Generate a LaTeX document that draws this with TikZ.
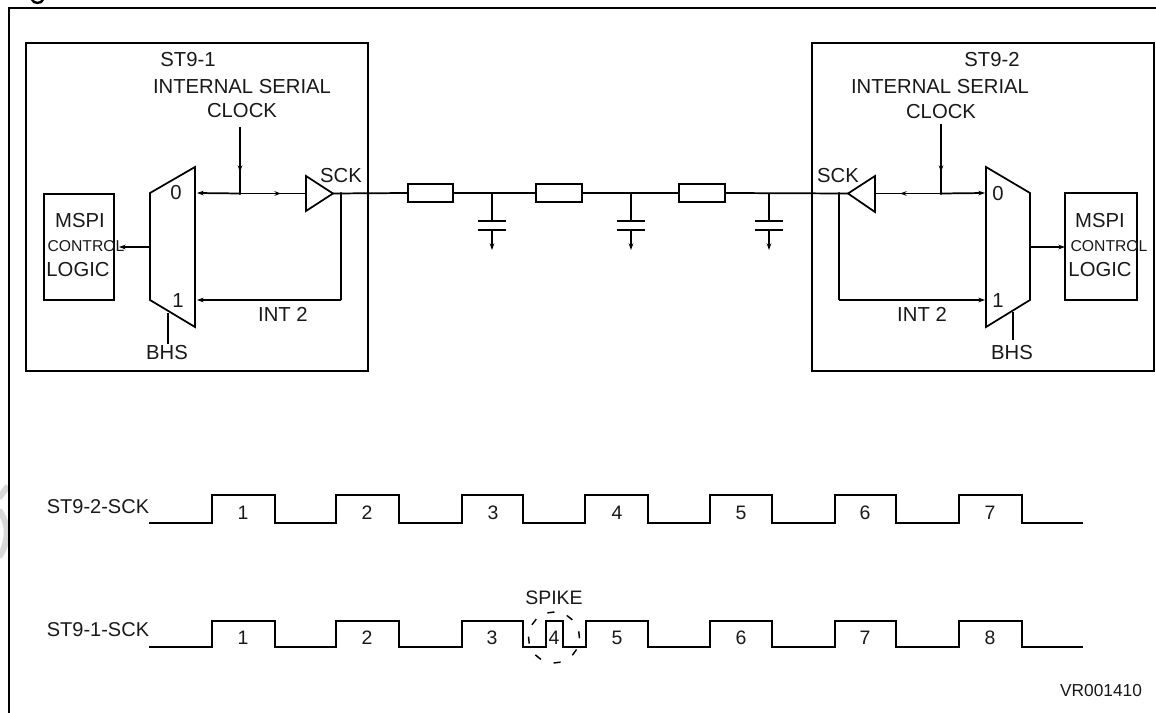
\documentclass[tikz,border=0pt]{standalone}
\usepackage{fontspec}
\setmainfont{Liberation Sans}
\usetikzlibrary{arrows.meta}
\tikzset{
  line/.style={line width=1.3pt, line join=miter},
  tip/.style={-{Stealth[length=5pt,width=3.5pt]}},
  lab/.style={inner sep=0pt, font=\fontsize{15.2pt}{18pt}\selectfont, text=black!90},
  smalllab/.style={inner sep=0pt, font=\fontsize{11.8pt}{14pt}\selectfont, text=black!90},
  wlab/.style={inner sep=0pt, font=\fontsize{15pt}{18pt}\selectfont, text=black!90},
  numlab/.style={inner sep=0pt, font=\fontsize{14.6pt}{18pt}\selectfont, text=black!90}
}
\begin{document}
\begin{tikzpicture}[x=0.75pt,y=-0.75pt]
\useasboundingbox (0,0) rectangle (1156,713);
\clip (0,0) rectangle (1156,713);
\fill[white] (0,0) rectangle (1156,713);
% watermark fragment and clipped title descender
\draw[black!15,line width=4.5pt] (8,486) -- (-1,498);
\draw[black!15,line width=4.5pt] (-1,510) .. controls (6,520) and (8,530) .. (6,540) .. controls (5,547) and (2,553) .. (-1,557);
\draw[line width=1.8pt] (32,-0.5) .. controls (33,4) and (42,4) .. (43,-0.5);
% frame
\draw[line] (1156,8) -- (9,8) -- (9,713);
% boxes
\node[draw,line,minimum width=256.5pt,minimum height=246pt,inner sep=0pt] (st1) at (197,207) {};
\node[draw,line,minimum width=256.5pt,minimum height=246pt,inner sep=0pt] (st2) at (983,207) {};
\node[draw,line,minimum width=52.5pt,minimum height=79.5pt,inner sep=0pt] (ml1) at (79,247) {};
\node[draw,line,minimum width=54pt,minimum height=80.25pt,inner sep=0pt] (ml2) at (1101,246.5) {};
% muxes
\draw[line] (150,193) -- (195,167) -- (195,327) -- (150,300) -- cycle;
\draw[line] (986,167) -- (1030,193) -- (1030,300) -- (986,327) -- cycle;
\coordinate (m1in0) at (197,193);
\coordinate (m1in1) at (197,300);
\coordinate (m1ctl) at (150,247);
\coordinate (m2in0) at (985,193);
\coordinate (m2in1) at (985,300);
\coordinate (m2ctl) at (1030,247);
% buffers
\draw[line] (306,176) -- (333,193.5) coordinate (b1o) -- (306,211) -- cycle;
\coordinate (b1i) at (306,193.5);
\draw[line] (875,176) -- (848,193.5) coordinate (b2o) -- (875,212) -- cycle;
\coordinate (b2i) at (875,193.5);
% resistors
\node[draw,line,minimum width=33.75pt,minimum height=13.5pt,inner sep=0pt] (r1) at (430.5,193) {};
\node[draw,line,minimum width=34.5pt,minimum height=13.5pt,inner sep=0pt] (r2) at (559,193) {};
\node[draw,line,minimum width=34.5pt,minimum height=13.5pt,inner sep=0pt] (r3) at (702,193) {};
% bus
\draw[line] (b1o) -- (r1.west);
\draw[line] (r1.east) -- (r2.west);
\draw[line] (r2.east) -- (r3.west);
\draw[line] (r3.east) -- (b2o);
% capacitors
\foreach \n/\x in {a/492,b/631,c/769}{
  \coordinate (c\n t) at (\x,193);
  \coordinate (c\n p) at (\x,221);
  \coordinate (c\n q) at (\x,230);
  \coordinate (c\n g) at (\x,250);
  \draw[line] (c\n t) -- (c\n p);
  \draw[line] ([xshift=-10.5pt]c\n p) -- ([xshift=10.5pt]c\n p);
  \draw[line] ([xshift=-10.5pt]c\n q) -- ([xshift=10.5pt]c\n q);
  \draw[line,tip] (c\n q) -- (c\n g);
}
% left internal
\coordinate (ck1) at (240,127); \coordinate (j1) at (240,193.5); \coordinate (s1) at (341,193.5);
\coordinate (s1b) at (341,300);
\draw[line,tip] (ck1) -- (240,172);
\draw[line] (ck1) -- (j1);
\draw[line] (j1) -- (b1i);
\draw[line,tip] (j1) -- (m1in0);
\draw[line,tip] (j1) -- (281,193.5);
\draw[line] (s1) -- (s1b);
\draw[line,tip] (s1b) -- (m1in1);
\draw[line,tip] (m1ctl) -- (119,247);
\fill (j1) circle (1.6); \fill (s1) circle (1.6);
\coordinate (bh1) at (168,313); \coordinate (bh1e) at (168,344);
\draw[line] (bh1) -- (bh1e);
% right internal
\coordinate (ck2) at (941,124); \coordinate (j2) at (941,193.5); \coordinate (s2) at (839,193.5);
\coordinate (s2b) at (839,300);
\draw[line,tip] (ck2) -- (941,172);
\draw[line] (ck2) -- (j2);
\draw[line] (b2i) -- (j2);
\draw[line,tip] (j2) -- (m2in0);
\draw[line,tip] (j2) -- (900,193.5);
\draw[line] (s2) -- (s2b);
\draw[line,tip] (s2b) -- (m2in1);
\draw[line,tip] (m2ctl) -- (1065,247);
\fill (j2) circle (1.6); \fill (s2) circle (1.6);
\coordinate (bh2) at (1013,312); \coordinate (bh2e) at (1013,340);
\draw[line] (bh2) -- (bh2e);
% labels left
\node[lab] (t1) at (188,60) {ST9-1};
\node[lab] (t2) at (242,87) {INTERNAL SERIAL};
\node[lab] (t3) at (242,111) {CLOCK};
\node[lab] (t4) at (341,176) {SCK};
\node[lab] (t5) at (80,221) {MSPI};
\node[smalllab] (t6) at (86,246) {CONTROL};
\node[lab] (t7) at (78,270) {LOGIC};
\node[lab] (t8) at (176,193) {0};
\node[lab] (t9) at (178,301) {1};
\node[lab] (t10) at (283,314) {INT 2};
\node[lab] (t11) at (167,353) {BHS};
% labels right
\node[lab] (u1) at (992,60) {ST9-2};
\node[lab] (u2) at (940,87) {INTERNAL SERIAL};
\node[lab] (u3) at (941,112) {CLOCK};
\node[lab] (u4) at (838,176) {SCK};
\node[lab] (u5) at (1100,221) {MSPI};
\node[smalllab] (u6) at (1109,246) {CONTROL};
\node[lab] (u7) at (1100,270) {LOGIC};
\node[lab] (u8) at (998,194) {0};
\node[lab] (u9) at (998,301) {1};
\node[lab] (u10) at (922,314) {INT 2};
\node[lab] (u11) at (1012,353) {BHS};
% waveforms
\node[wlab] (w2) at (98,507) {ST9-2-SCK};
\node[wlab] (w1) at (98,630) {ST9-1-SCK};
\draw[line] (149,523) -- (212,523) |- (275,495) |- (336,523) |- (399,495) |- (462,523) |- (523,495) |- (585,523) |- (648,495) |- (710,523) |- (772,495) |- (835,523) |- (896,495) |- (959,523) |- (1022,495) |- (1083,523);
\draw[line] (149,647) -- (212,647) |- (275,621) |- (336,647) |- (399,621) |- (462,647) |- (523,621) |- (546,647) |- (563,621) |- (586,647) |- (648,621) |- (710,647) |- (772,621) |- (835,647) |- (896,621) |- (959,647) |- (1022,621) |- (1083,647);
\foreach \x/\t in {243/1,367/2,493/3,617/4,741/5,865/6,990/7}{
  \node[numlab] at (\x,513) {\t};}
\foreach \x/\t in {243/1,367/2,492/3,554/4,617/5,741/6,865/7,990/8}{
  \node[numlab] at (\x,638) {\t};}
\node[numlab] (sp) at (554,598) {SPIKE};
\coordinate (spk) at (554,637.5);
\foreach \a in {354,36,83,129,174,218,263,308}{
  \draw[line width=1.1pt] ([shift={(\a-8:25.5)}]spk) -- ([shift={(\a+8:25.5)}]spk);
}
\node[inner sep=0pt,font=\fontsize{13pt}{15pt}\selectfont,text=black!90] (vr) at (1101,691) {VR001410};
\end{tikzpicture}
\end{document}
